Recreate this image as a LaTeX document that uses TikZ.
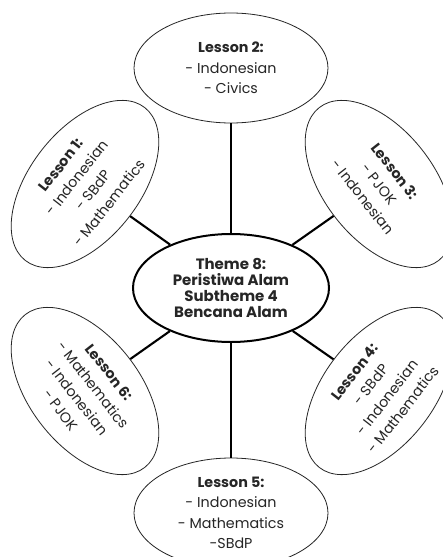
\documentclass[tikz,border=0pt]{standalone}
\usepackage{fontspec}
\setmainfont{Poppins}
\usetikzlibrary{shapes.geometric}
\definecolor{ink}{HTML}{262626}
\begin{document}
\begin{tikzpicture}[x=1pt,y=-1pt,
  lesson/.style={ellipse, draw=black!85, line width=0.8pt,
    minimum width=194pt, minimum height=110pt, inner sep=0pt,
    align=center, text=ink, font=\fontsize{14.3}{20.5}\selectfont},
  hub/.style={ellipse, draw=black, line width=2pt,
    minimum width=196pt, minimum height=108pt, inner sep=0pt,
    align=center, text=ink, font=\fontsize{15}{16}\selectfont\bfseries},
  link/.style={line width=2.1pt, draw=black}]
\clip (0,0) rectangle (443,557);
\fill[white] (0,0) rectangle (443,557);

% central theme
\node[hub] (theme) at (231,288) {Theme 8:\\Peristiwa Alam\\Subtheme 4\\Bencana Alam};

% lessons around the theme
\node[lesson] (l2) at (231,68) {\textbf{Lesson 2:}\\- Indonesian\\- Civics};
\node[lesson] (l5) at (231,513) {\textbf{Lesson 5:}\\- Indonesian\\- Mathematics\\-SBdP};
\node[lesson, rotate=52] (l1) at (85,184) {\textbf{Lesson 1:}\\- Indonesian\\- SBdP\\- Mathematics};
\node[lesson, rotate=-52] (l3) at (379,184) {\textbf{Lesson 3:}\\- PJOK\\- Indonesian};
\node[lesson, rotate=52] (l4) at (379,391) {\textbf{Lesson 4:}\\- SBdP\\- Indonesian\\- Mathematics};
\node[lesson, rotate=-52] (l6) at (85,391) {\textbf{Lesson 6:}\\- Mathematics\\- Indonesian\\- PJOK};

% spokes
\foreach \n in {l1,l2,l3,l4,l5,l6}
  \draw[link] (theme) -- (\n);
\end{tikzpicture}
\end{document}
